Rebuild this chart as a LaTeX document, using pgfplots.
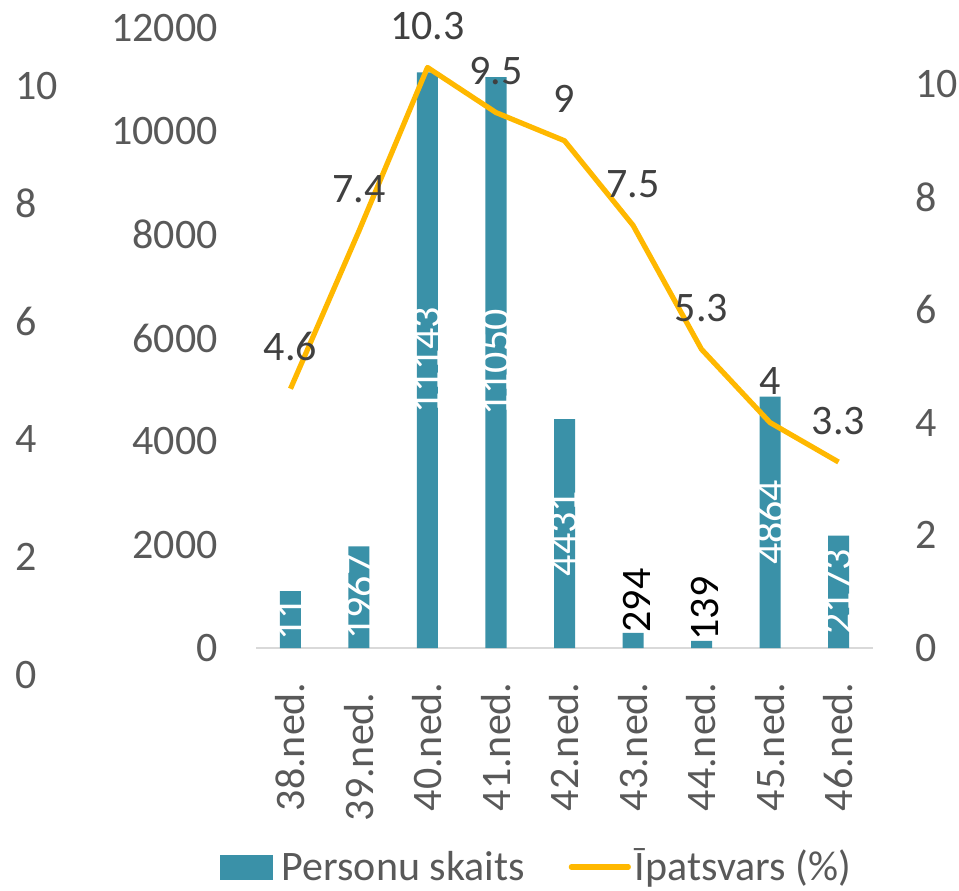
\documentclass[border=0pt]{standalone}
\usepackage{fontspec}
\setmainfont{Carlito}
\usepackage{pgfplots}
\pgfplotsset{compat=1.18}
\definecolor{barcol}{RGB}{58,145,168}
\definecolor{linecol}{RGB}{255,184,0}
\definecolor{tickgray}{RGB}{89,89,89}
\definecolor{labgray}{RGB}{64,64,64}
\definecolor{axgray}{RGB}{217,217,217}
\newcommand{\lf}{\fontsize{21}{25}\selectfont}
\begin{document}
\begin{tikzpicture}
\useasboundingbox (-128.125pt,-121pt) rectangle (351.375pt,324pt);
% far-left extra axis
\begin{axis}[
  at={(0pt,-13.5pt)}, anchor=south west,
  scale only axis, width=308.25pt, height=294.5pt,
  xmin=0, xmax=1, ymin=0, ymax=10,
  hide x axis, axis y line*=left, y axis line style={draw=none},
  ytick={0,2,...,10}, yticklabels={0,2,4,6,8,10},
  scaled y ticks=false,
  major tick length=0pt,
  yticklabel style={anchor=west, inner sep=0pt, xshift=-120.6pt, font=\lf, text=tickgray},
]
\addplot[draw=none] coordinates {(0,0)};
\end{axis}
% bars
\begin{axis}[
  at={(0pt,0pt)}, anchor=south west,
  scale only axis, width=308.25pt, height=310pt,
  xmin=-0.5, xmax=8.5, ymin=0, ymax=12000,
  axis x line=bottom, axis y line=left,
  x axis line style={draw=axgray, line width=1pt, -},
  y axis line style={draw=none},
  major tick length=0pt,
  scaled y ticks=false,
  xtick={0,...,8},
  xticklabels={38.ned.,39.ned.\hspace*{5pt},40.ned.,41.ned.,42.ned.,43.ned.,44.ned.,45.ned.,46.ned.},
  xticklabel style={yshift=-17pt, rotate=90, anchor=east, inner sep=0pt, font=\lf, text=tickgray},
  ytick={0,2000,...,12000}, yticklabels={0,2000,4000,6000,8000,10000,12000},
  yticklabel style={anchor=east, inner sep=0pt, xshift=-19pt, font=\lf, text=tickgray},
  clip=false,
]
\addplot[ybar, bar width=10.5pt, fill=barcol, draw=none] coordinates {(0,1100) (1,1967) (2,11143) (3,11050) (4,4431) (5,294) (6,139) (7,4864) (8,2173)};
\addplot[only marks, mark=none, point meta=explicit symbolic, nodes near coords,
  every node near coord/.append style={rotate=90, anchor=center, inner sep=0pt, font=\lf, text=white}]
  coordinates {(0,550)[11] (1,983.5)[1967] (2,5571.5)[11143] (3,5525)[11050] (4,2215.5)[4431] (7,2432)[4864] (8,1086.5)[2173]};
\addplot[only marks, mark=none, point meta=explicit symbolic, nodes near coords,
  every node near coord/.append style={xshift=2pt, rotate=90, anchor=west, inner sep=0pt, font=\lf, text=black}]
  coordinates {(5,294)[294] (6,139)[139]};
\end{axis}
% line
\begin{axis}[
  at={(0pt,0pt)}, anchor=south west,
  scale only axis, width=308.25pt, height=310pt,
  xmin=-0.5, xmax=8.5, ymin=0, ymax=11,
  hide x axis, axis y line*=right, y axis line style={draw=none},
  major tick length=0pt,
  ytick={0,2,...,10}, yticklabels={0,2,4,6,8,10},
  yticklabel style={anchor=west, inner sep=0pt, xshift=21.1pt, font=\lf, text=tickgray},
  clip=false,
  legend columns=2,
  legend style={at={(-0.0588,-0.3532)}, anchor=west, draw=none, fill=none,
    inner sep=0pt, outer sep=0pt, font=\lf, text=tickgray,
    nodes={inner sep=0pt, text height=17.5pt, text depth=4pt}},
]
\addlegendimage{legend image code/.code={\fill[barcol] (0pt,-6pt) rectangle (26pt,6pt); \path (30.5pt,0pt);}}
\addlegendentry{Personu skaits}
\addplot[linecol, line width=2.6pt, line join=round, mark=none, point meta=explicit symbolic, nodes near coords,
  every node near coord/.append style={anchor=base, yshift=14pt, inner sep=0pt, font=\lf, text=labgray},
  legend image code/.code={\path (-22pt,0pt); \draw[linecol, line width=2.6pt, line cap=round] (0pt,0pt) -- (28.5pt,0pt); \path (30.5pt,0pt);}]
  coordinates {(0,4.6)[4.6] (1,7.4)[7.4] (2,10.3)[10.3] (3,9.5)[9.5] (4,9)[9] (5,7.5)[7.5] (6,5.3)[5.3] (7,4)[4] (8,3.3)[3.3]};
\addlegendentry{Īpatsvars (\%)}
\end{axis}
\end{tikzpicture}
\end{document}
